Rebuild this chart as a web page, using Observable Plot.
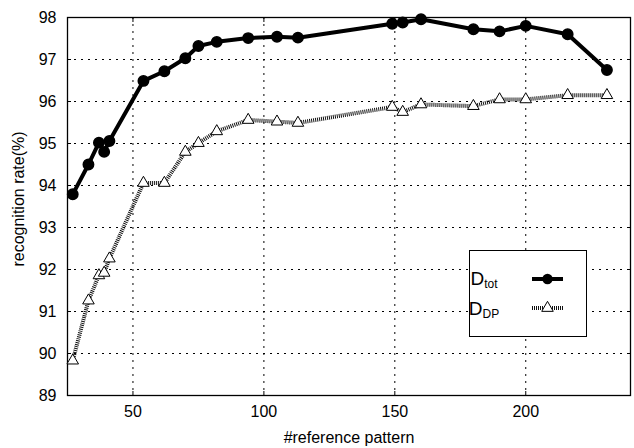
<!DOCTYPE html>
<html>
<head>
<meta charset="utf-8">
<script src="https://cdn.jsdelivr.net/npm/d3@7"></script>
<script src="https://cdn.jsdelivr.net/npm/@observablehq/plot@0.6"></script>
<style>
  html, body { margin: 0; padding: 0; background: #fff; }
  #chart { width: 634px; height: 448px; }
</style>
</head>
<body>
<div id="chart"></div>
<script>
// Data
const refPatterns = [27, 33, 37, 39, 41, 54, 62, 70, 75, 82, 94, 105, 113, 149, 153, 160, 180, 190, 200, 216, 231];
const dTot = [93.79, 94.50, 95.02, 94.80, 95.06, 96.49, 96.72, 97.03, 97.32, 97.42, 97.51, 97.54, 97.52, 97.85, 97.88, 97.96, 97.72, 97.67, 97.80, 97.60, 96.75];
const dDP  = [89.83, 91.26, 91.86, 91.92, 92.26, 94.06, 94.06, 94.80, 95.01, 95.29, 95.56, 95.52, 95.49, 95.87, 95.75, 95.93, 95.89, 96.05, 96.05, 96.15, 96.15];
const xTicks = [50, 100, 150, 200];
const yTicks = [89, 90, 91, 92, 93, 94, 95, 96, 97, 98];
const yGrid = [90, 91, 92, 93, 94, 95, 96, 97];
const seriesNames = ["tot", "DP"];

const totData = refPatterns.map((x, i) => ({x, y: dTot[i]}));
const dpData = refPatterns.map((x, i) => ({x, y: dDP[i]}));

const font = "'Liberation Sans', Arial, sans-serif";

const plot = Plot.plot({
  width: 634,
  height: 448,
  marginLeft: 67,
  marginRight: 4,
  marginTop: 17,
  marginBottom: 53,
  style: {fontFamily: font, fontSize: "16px", color: "#000", background: "#fff"},
  x: {domain: [25, 240]},
  y: {domain: [89, 98]},
  marks: [
    Plot.gridX(xTicks, {stroke: "#000", strokeOpacity: 1, strokeWidth: 1, strokeDasharray: "2,5"}),
    Plot.gridY(yGrid, {stroke: "#000", strokeOpacity: 1, strokeWidth: 1, strokeDasharray: "2,5"}),
    Plot.axisX({ticks: xTicks, tickSize: -4, tickPadding: 14, tickFormat: d => d, label: null, fontSize: 16, strokeWidth: 1}),
    Plot.axisX({ticks: xTicks, anchor: "top", tickSize: -4, tickFormat: () => "", label: null}),
    Plot.axisY({ticks: yTicks, tickSize: -4, tickPadding: 15, tickFormat: d => d, label: null, fontSize: 16}),
    Plot.axisY({ticks: yTicks, anchor: "right", tickSize: -4, tickFormat: () => "", label: null}),
    Plot.frame({stroke: "#000", strokeWidth: 1.3}),
    Plot.line(dpData, {x: "x", y: "y", stroke: "#111", strokeWidth: 4, strokeDasharray: "1,1", strokeLinecap: "butt", strokeLinejoin: "miter"}),
    Plot.dot(dpData, {x: "x", y: "y", symbol: "triangle", r: 4.3, fill: "#fff", stroke: "#000", strokeWidth: 1}),
    Plot.line(totData, {x: "x", y: "y", stroke: "#000", strokeWidth: 4}),
    Plot.dot(totData, {x: "x", y: "y", symbol: "circle", r: 5.2, fill: "#000", stroke: "#000"})
  ]
});

const svg = d3.select(plot);
// axis titles
svg.append("text")
  .attr("x", 349).attr("y", 443)
  .attr("text-anchor", "middle")
  .style("font-family", font).style("font-size", "16px")
  .text("#reference pattern");
svg.append("text")
  .attr("transform", "translate(24,199) rotate(-90)")
  .attr("text-anchor", "middle")
  .style("font-family", font).style("font-size", "16px")
  .text("recognition rate(%)");

// legend
const lg = svg.append("g");
lg.append("rect").attr("x", 469.5).attr("y", 250.5).attr("width", 117).attr("height", 86)
  .attr("fill", "#fff").attr("stroke", "#000").attr("stroke-width", 1);
const entries = [
  {name: seriesNames[0], y: 279, base: 285},
  {name: seriesNames[1], y: 308, base: 315}
];
entries.forEach((e, i) => {
  const t = lg.append("text").attr("x", 484).attr("y", e.base)
    .style("font-family", font).style("font-size", "19px");
  t.append("tspan").text("D");
  t.append("tspan").attr("dy", 3).style("font-size", "12px").text(e.name);
  if (i === 0) {
    lg.append("line").attr("x1", 532).attr("x2", 563).attr("y1", e.y).attr("y2", e.y)
      .attr("stroke", "#000").attr("stroke-width", 4);
    lg.append("circle").attr("cx", 547.5).attr("cy", e.y).attr("r", 5.2).attr("fill", "#000");
  } else {
    lg.append("line").attr("x1", 532).attr("x2", 563).attr("y1", e.y).attr("y2", e.y)
      .attr("stroke", "#111").attr("stroke-width", 4).attr("stroke-dasharray", "1,1");
    lg.append("path").attr("d", d3.symbol(d3.symbolTriangle, Math.PI * 4.3 * 4.3)())
      .attr("transform", `translate(547.5,${e.y})`)
      .attr("fill", "#fff").attr("stroke", "#000");
  }
});

document.getElementById("chart").appendChild(plot);
</script>
</body>
</html>
